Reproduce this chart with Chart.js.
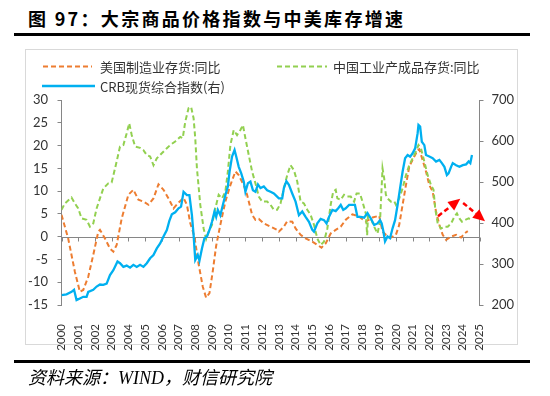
<!DOCTYPE html>
<html><head><meta charset="utf-8">
<script src="https://cdn.jsdelivr.net/npm/chart.js@4.4.1/dist/chart.umd.min.js"></script>
<style>
html,body{margin:0;padding:0;background:#fff;width:550px;height:396px;overflow:hidden;}
#title{position:absolute;left:28px;top:9px;font-family:"Noto Sans CJK SC",sans-serif;font-weight:bold;font-size:18px;line-height:18px;letter-spacing:2.3px;color:#000;white-space:nowrap;}
.rule{position:absolute;left:14px;width:516px;height:2.5px;background:#000;}
#box{position:absolute;left:25px;top:49px;width:493px;height:296px;border:1px solid #d9d9d9;box-sizing:border-box;}
#c{position:absolute;left:0;top:0;}
.lg{position:absolute;font-family:"Noto Sans CJK SC",sans-serif;font-size:13px;line-height:13px;color:#333;white-space:nowrap;}
.ls{position:absolute;}
#src{position:absolute;left:28px;top:369px;font-family:"Liberation Serif","Noto Sans CJK SC",serif;font-style:italic;font-size:18px;line-height:18px;color:#000;white-space:nowrap;}
</style></head>
<body>
<div id="title">图 97：大宗商品价格指数与中美库存增速</div>
<div class="rule" style="top:33px"></div>
<div id="box"></div>
<canvas id="c" width="550" height="396"></canvas>
<svg class="ls" style="left:0;top:0" width="550" height="100">
  <line x1="43" y1="66.5" x2="92" y2="66.5" stroke="#ED7D31" stroke-width="2" stroke-dasharray="5,3"/>
  <line x1="277" y1="66.5" x2="327" y2="66.5" stroke="#92D050" stroke-width="2" stroke-dasharray="5,3"/>
  <line x1="42" y1="86" x2="95" y2="86" stroke="#00B0F0" stroke-width="2.3"/>
</svg>
<div class="lg" style="left:100px;top:60px">美国制造业存货:同比</div>
<div class="lg" style="left:333px;top:60px">中国工业产成品存货:同比</div>
<div class="lg" style="left:100px;top:79.5px">CRB现货综合指数(右)</div>
<div class="rule" style="top:360px"></div>
<div id="src">资料来源：WIND，财信研究院</div>
<script>
// ---- tick labels ----
const tickYears = ['2000','2001','2002','2003','2004','2005','2006','2007','2008','2009','2010','2011','2012','2013','2014','2015','2016','2017','2018','2019','2020','2021','2022','2023','2024','2025'];
const leftTicks = [-15,-10,-5,0,5,10,15,20,25,30];
const rightTicks = [200,300,400,500,600,700];

// ---- 美国制造业存货:同比 ----
const usX = [2000.0,2000.4,2000.8,2001.1,2001.3,2001.6,2001.9,2002.2,2002.3,2002.6,2002.9,2003.1,2003.3,2003.6,2004.0,2004.3,2004.6,2004.9,2005.2,2005.5,2005.8,2006.1,2006.4,2006.7,2007.0,2007.3,2007.5,2007.7,2007.95,2008.2,2008.45,2008.65,2008.85,2009.05,2009.25,2009.5,2009.8,2010.1,2010.4,2010.6,2010.9,2011.1,2011.4,2011.6,2011.8,2012.1,2012.5,2012.9,2013.0,2013.3,2013.5,2013.8,2014.0,2014.3,2014.6,2015.0,2015.3,2015.55,2015.8,2016.1,2016.4,2016.7,2017.0,2017.4,2017.8,2018.2,2018.6,2019.0,2019.2,2019.4,2019.7,2020.0,2020.2,2020.4,2020.6,2020.8,2021.1,2021.3,2021.4,2021.6,2021.8,2022.0,2022.2,2022.4,2022.6,2022.8,2023.0,2023.3,2023.6,2023.9,2024.1,2024.3];
const usY = [4.8,-0.4,-7.7,-12.1,-11.7,-8.8,-4.0,1.1,1.5,-0.4,-2.6,-3.3,-1.8,4.0,9.2,10.3,8.1,7.7,7.0,8.4,11.5,10.3,8.4,6.2,7.5,8.5,7.0,3.0,0,-6,-11,-13.4,-12.4,-7.5,-2,2.6,7.7,11.3,14.3,13.5,11.3,9.2,4.8,3.7,3.9,2.9,2.2,1.5,1.1,2.2,3.4,3.3,1.8,0.4,-0.4,-1.1,-1.8,-2.4,-1.5,0.7,1.5,2.2,3.7,4.9,4.4,3.3,4.2,4.6,1.1,0.4,-0.2,0.4,2.6,7.0,11.3,15.4,17.6,19.0,19.2,16.8,14.3,11.3,9.9,5.5,2.6,0.4,-0.7,0,0.4,-0.2,0.7,1.2];

// ---- 中国工业产成品存货:同比 ----
const cnX = [2000.0,2000.2,2000.6,2000.8,2001.0,2001.2,2001.5,2001.7,2001.9,2002.1,2002.3,2002.5,2002.8,2003.0,2003.3,2003.5,2003.7,2003.9,2004.05,2004.2,2004.4,2004.7,2004.9,2005.1,2005.3,2005.5,2005.7,2006.0,2006.3,2006.5,2006.8,2007.1,2007.25,2007.4,2007.6,2007.75,2007.9,2008.0,2008.1,2008.3,2008.5,2008.65,2008.8,2009.0,2009.2,2009.4,2009.6,2009.8,2009.95,2010.1,2010.3,2010.5,2010.7,2010.85,2011.0,2011.2,2011.4,2011.6,2011.8,2012.0,2012.3,2012.5,2012.7,2012.9,2013.1,2013.3,2013.5,2013.7,2013.9,2014.1,2014.3,2014.5,2014.7,2014.9,2015.1,2015.3,2015.5,2015.7,2015.9,2016.1,2016.25,2016.4,2016.5,2016.7,2016.9,2017.1,2017.3,2017.5,2017.65,2017.85,2018.0,2018.2,2018.28,2018.33,2018.4,2018.5,2018.7,2018.9,2019.05,2019.2,2019.3,2019.4,2019.5,2019.7,2019.9,2020.0,2020.2,2020.4,2020.6,2020.8,2021.0,2021.2,2021.35,2021.5,2021.7,2021.9,2022.1,2022.25,2022.35,2022.5,2022.7,2022.9,2023.1,2023.3,2023.5,2023.65,2023.8,2023.95,2024.15,2024.35,2024.55];
const cnY = [5.9,7.3,8.6,7.3,6.2,4.0,3.7,2.2,2.9,6.2,8.4,10.6,11.7,11.9,16.5,19.8,20.1,22.7,24.9,22.3,19.8,19.5,19.0,17.9,17.6,15.7,17.2,18.3,19.4,20.1,20.9,21.9,21.6,25.2,28.2,28.5,26.0,21.6,15.0,7.0,1.8,-0.5,1.1,2.6,6.2,9.2,8.4,9.9,14.3,20.1,23.4,22.3,23.4,24.5,21.6,17.9,14.3,11.7,8.8,7.7,7.7,7.0,5.9,5.9,7.3,10.6,13.5,15.7,14.6,12.1,7.7,7.3,5.9,4.8,2.6,-0.4,-1.8,-1.1,1.8,7.0,9.9,10.3,8.4,8.1,9.2,8.8,8.8,7.7,9.5,9.5,7.7,5.1,0.3,4.5,4.4,4.0,2.2,0.7,3.3,15.0,12.8,9.2,8.4,7.7,7.8,7.0,8.4,10.6,13.5,15.7,17.2,18.7,20.1,19.4,16.5,13.5,11.3,10.3,6.2,2.9,1.8,2.2,2.2,2.9,4.4,5.1,4.0,3.3,3.7,4.0,3.7];

// ---- CRB现货综合指数(右) ----
const crbX = [2000.0,2000.3,2000.6,2000.75,2000.9,2001.1,2001.3,2001.5,2001.6,2001.9,2002.1,2002.3,2002.5,2002.7,2002.9,2003.1,2003.35,2003.5,2003.7,2003.9,2004.1,2004.3,2004.5,2004.7,2004.9,2005.1,2005.3,2005.5,2005.7,2005.9,2006.1,2006.3,2006.45,2006.6,2006.8,2007.0,2007.15,2007.3,2007.5,2007.65,2007.8,2007.9,2008.0,2008.15,2008.25,2008.4,2008.55,2008.7,2008.85,2009.0,2009.15,2009.25,2009.35,2009.5,2009.65,2009.8,2009.95,2010.05,2010.2,2010.35,2010.45,2010.6,2010.75,2010.9,2011.0,2011.15,2011.3,2011.45,2011.6,2011.75,2011.9,2012.1,2012.3,2012.5,2012.7,2012.85,2013.0,2013.2,2013.3,2013.45,2013.6,2013.8,2014.0,2014.2,2014.4,2014.6,2014.8,2015.0,2015.1,2015.3,2015.5,2015.7,2015.85,2016.0,2016.2,2016.4,2016.55,2016.7,2016.85,2017.0,2017.2,2017.4,2017.55,2017.7,2017.9,2018.1,2018.3,2018.5,2018.7,2018.9,2019.05,2019.15,2019.25,2019.35,2019.5,2019.65,2019.8,2019.95,2020.1,2020.25,2020.4,2020.55,2020.7,2020.85,2021.0,2021.15,2021.3,2021.35,2021.45,2021.55,2021.7,2021.8,2022.0,2022.2,2022.4,2022.6,2022.75,2022.9,2023.05,2023.15,2023.3,2023.4,2023.6,2023.8,2024.0,2024.2,2024.35,2024.45,2024.55];
const crbY = [224,226,232,237,212,216,220,220,232,237,245,250,249,252,273,285,306,302,293,296,291,298,293,298,293,302,314,322,338,350,367,383,405,421,426,436,440,476,468,468,419,371,310,322,308,338,363,367,383,403,428,415,432,419,444,468,489,525,562,578,562,537,521,501,476,497,501,480,476,494,485,489,480,476,472,466,460,460,485,502,493,472,452,419,428,415,403,383,379,399,410,407,399,415,432,429,436,444,432,436,444,444,444,415,415,413,424,411,395,399,407,399,380,355,367,363,387,407,444,485,525,558,566,562,570,582,619,639,635,598,590,566,562,558,550,554,546,537,517,521,537,546,541,537,541,543,550,546,566];

// ---- annotation arrows (x in years, y on left axis) ----
const arrowFromX = [2022.52, 2024.02];
const arrowFromY = [4.5, 7.4];
const arrowToX = [2023.85, 2025.33];
const arrowToY = [8.3, 3.4];

const pts = (xs, ys) => xs.map((x, i) => ({x: x, y: ys[i]}));
const AX = '#868686';
const tickFont = {family: 'Lato, "Noto Sans CJK SC", sans-serif', size: 13};

const zeroAxis = {
  id: 'zeroAxis',
  beforeDatasetsDraw(chart) {
    const {ctx, chartArea: a, scales} = chart;
    const y = Math.round(scales.yL.getPixelForValue(0)) + 0.5;
    ctx.save();
    ctx.strokeStyle = AX; ctx.lineWidth = 1;
    ctx.beginPath();
    ctx.moveTo(a.left, y); ctx.lineTo(a.right, y);
    tickYears.forEach(t => {
      const px = Math.round(scales.x.getPixelForValue(+t)) + 0.5;
      ctx.moveTo(px, y); ctx.lineTo(px, y + 4);
    });
    ctx.stroke();
    ctx.restore();
  }
};

const arrows = {
  id: 'arrows',
  afterDatasetsDraw(chart) {
    const {ctx, scales} = chart;
    ctx.save();
    arrowFromX.forEach((fx, i) => {
      const x1 = scales.x.getPixelForValue(fx), y1 = scales.yL.getPixelForValue(arrowFromY[i]);
      const x2 = scales.x.getPixelForValue(arrowToX[i]), y2 = scales.yL.getPixelForValue(arrowToY[i]);
      const ang = Math.atan2(y2 - y1, x2 - x1);
      const hl = 12, hw = 5.5;
      const bx = x2 - hl * Math.cos(ang), by = y2 - hl * Math.sin(ang);
      ctx.strokeStyle = '#FF0000'; ctx.fillStyle = '#FF0000';
      ctx.lineWidth = 2.5; ctx.setLineDash([5, 3]);
      ctx.beginPath(); ctx.moveTo(x1, y1); ctx.lineTo(bx, by); ctx.stroke();
      ctx.setLineDash([]);
      ctx.beginPath();
      ctx.moveTo(x2, y2);
      ctx.lineTo(bx + hw * Math.sin(ang), by - hw * Math.cos(ang));
      ctx.lineTo(bx - hw * Math.sin(ang), by + hw * Math.cos(ang));
      ctx.closePath(); ctx.fill();
    });
    ctx.restore();
  }
};

new Chart(document.getElementById('c'), {
  type: 'line',
  data: {
    datasets: [
      {label: '美国制造业存货:同比', data: pts(usX, usY), borderColor: '#ED7D31', borderWidth: 2, borderDash: [5, 3], pointRadius: 0, yAxisID: 'yL', order: 2},
      {label: '中国工业产成品存货:同比', data: pts(cnX, cnY), borderColor: '#92D050', borderWidth: 2, borderDash: [5, 3], pointRadius: 0, yAxisID: 'yL', order: 1},
      {label: 'CRB现货综合指数(右)', data: pts(crbX, crbY), borderColor: '#00B0F0', borderWidth: 2.3, pointRadius: 0, yAxisID: 'yR', order: 0}
    ]
  },
  options: {
    responsive: false, animation: false, devicePixelRatio: 1,
    layout: {padding: {left: 20, right: 30, top: 100, bottom: 11}},
    plugins: {legend: {display: false}, tooltip: {enabled: false}},
    scales: {
      x: {
        type: 'linear', min: 2000, max: 2025, position: 'bottom',
        afterBuildTicks: s => { s.ticks = tickYears.map(v => ({value: +v})); },
        ticks: {autoSkip: false, maxRotation: 90, minRotation: 90, padding: 11, color: '#333',
                font: {family: tickFont.family, size: 11.5}, callback: v => String(v)},
        grid: {display: false}, border: {display: false},
        afterFit: s => { s.height = 80; }
      },
      yL: {
        position: 'left', min: -15, max: 30,
        afterBuildTicks: s => { s.ticks = leftTicks.map(v => ({value: v})); },
        ticks: {padding: 9.5, color: '#333', font: tickFont},
        grid: {drawOnChartArea: false, tickLength: 4, color: AX},
        border: {color: AX},
        afterFit: s => { s.width = 41.5; }
      },
      yR: {
        position: 'right', min: 200, max: 700,
        afterBuildTicks: s => { s.ticks = rightTicks.map(v => ({value: v})); },
        ticks: {padding: 8, color: '#333', font: tickFont},
        grid: {drawOnChartArea: false, tickLength: 4, color: AX},
        border: {color: AX},
        afterFit: s => { s.width = 40.5; }
      }
    }
  },
  plugins: [zeroAxis, arrows]
});
</script>
</body></html>
